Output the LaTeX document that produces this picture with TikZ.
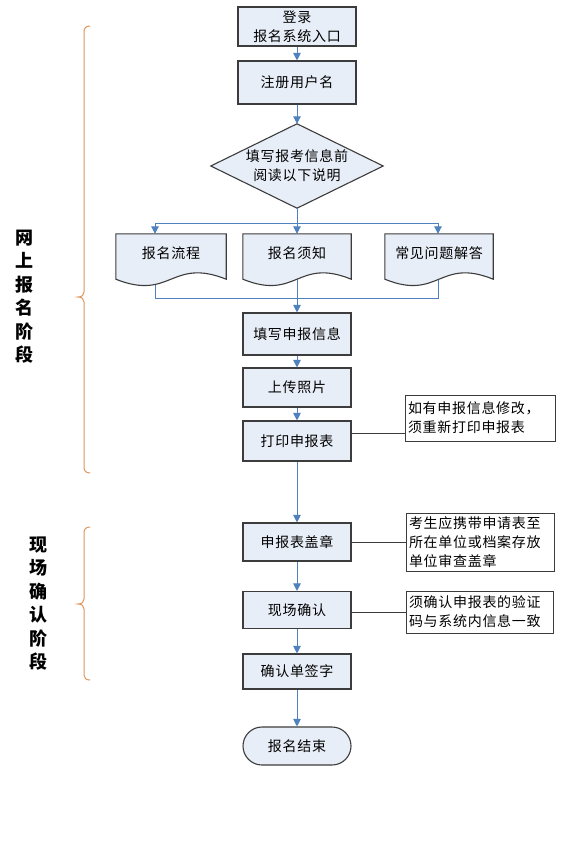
\documentclass[tikz,border=0pt]{standalone}
\usepackage{fontspec}
\setmainfont{Noto Sans CJK SC}[LetterSpace=5]
\usetikzlibrary{arrows.meta}
\definecolor{boxfill}{RGB}{232,238,247}
\definecolor{boxline}{RGB}{60,60,60}
\definecolor{arrowblue}{RGB}{79,129,189}
\definecolor{bracec}{RGB}{222,150,92}
\pgfdeclarelayer{lines}
\pgfdeclarelayer{shapes}
\pgfsetlayers{lines,shapes,main}
\tikzset{
  txt/.style={font=\fontsize{14}{19}\selectfont},
  box/.style={txt, draw=boxline, fill=boxfill, line width=1.1pt, minimum width=108pt, inner sep=0pt, align=center},
  plain/.style={txt, inner sep=0pt, align=center},
  shapeline/.style={draw=boxline, fill=boxfill, line width=1.1pt},
  note/.style={txt, draw=boxline, fill=white, line width=1pt, inner sep=3pt, align=left},
  arr/.style={draw=arrowblue, line width=1pt, -{Triangle[width=7.5pt,length=7.5pt]}},
  link/.style={draw=arrowblue, line width=1pt},
  conn/.style={draw=boxline, line width=1pt},
  bracestyle/.style={draw=bracec, line width=1pt},
  stage/.style={font=\bfseries\fontsize{18}{23.5}\selectfont, align=center, inner sep=0pt}
}
\begin{document}
\begin{tikzpicture}[x=1pt,y=-1pt]
\begin{pgfonlayer}{lines}
\fill[white] (0,0) rectangle (567,850);
\end{pgfonlayer}
\useasboundingbox (0,0) rectangle (567,850);

% main column
\node[box, minimum width=118pt, minimum height=39pt] (b1) at (297,26.5) {登录\\报名系统入口};
\node[box, minimum width=118pt, minimum height=43pt] (b2) at (297,82.5) {注册用户名};
\node[plain, minimum width=172pt, minimum height=84pt] (dia) at (297,166) {填写报考信息前\\阅读以下说明};
\begin{pgfonlayer}{shapes}
\path[shapeline] (dia.north) -- (dia.east) -- (dia.south) -- (dia.west) -- cycle;
\end{pgfonlayer}

% documents
\node[plain, minimum width=110pt, minimum height=38pt] (d1) at (171,253) {报名流程};
\node[plain, minimum width=108pt, minimum height=38pt] (d2) at (297,253) {报名须知};
\node[plain, minimum width=108pt, minimum height=38pt] (d3) at (439,253) {常见问题解答};
\begin{pgfonlayer}{shapes}
\foreach \d in {d1,d2,d3}{
  \path[shapeline] (\d.north west) -- (\d.north east) -- ([yshift=-7pt]\d.south east)
    .. controls ([yshift=15pt]\d.south) and ([yshift=-29pt]\d.south) .. ([yshift=-7pt]\d.south west) -- cycle;
}
\end{pgfonlayer}

\node[box, minimum height=42pt] (f1) at (297,334) {填写申报信息};
\node[box, minimum height=39pt] (f2) at (297,387.5) {上传照片};
\node[box, minimum height=40pt] (f3) at (297,441) {打印申报表};
\node[box, minimum height=38pt] (g1) at (297,542) {申报表盖章};
\node[box, minimum height=37pt] (g2) at (297,610) {现场确认};
\node[box, minimum height=35pt] (h1) at (297,671.5) {确认单签字};
\node[box, rounded corners=19pt, minimum height=38pt] (e) at (297,746) {报名结束};

% notes
\node[note, text width=144pt, minimum height=46pt] (n1) at (480,418) {如有申报信息修改，\\须重新打印申报表};
\node[note, text width=142pt, minimum height=58pt] (n2) at (480,542) {考生应携带申请表至\\所在单位或档案存放\\单位审查盖章};
\node[note, text width=141pt, minimum height=42pt] (n3) at (479.5,612) {须确认申报表的验证\\码与系统内信息一致};

% arrows
\draw[arr] (b1) -- (b2);
\draw[arr] (b2) -- (dia.north);
\coordinate (br) at (297,223);
\coordinate (a1) at (155,223);
\coordinate (a3) at (438,223);
\draw[link] (dia.south) -- (br);
\draw[link] (a1) -- (a3);
\draw[arr] (a1) -- (a1 |- d1.north);
\draw[arr] (br) -- (d2.north);
\draw[arr] (a3) -- (a3 |- d3.north);

\coordinate (m1) at (155,298);
\coordinate (m3) at (438,298);
\begin{pgfonlayer}{lines}
\draw[link] (d1.center -| m1) -- (m1) -- (m3) -- (d3.center -| m3);
\draw[arr] (d2.center) -- (f1.north);
\end{pgfonlayer}

\draw[arr] (f1) -- (f2);
\draw[arr] (f2) -- (f3);
\draw[arr] (f3) -- (g1);
\draw[arr] (g1) -- (g2);
\draw[arr] (g2) -- (h1);
\draw[arr] (h1) -- (e);

% note connectors
\draw[conn] ([yshift=8pt]f3.east) -- ([yshift=8pt]f3.east -| n1.west);
\draw[conn] (g1.east) -- (n2.west);
\draw[conn] (g2.east |- n3.west) -- (n3.west);

% braces
\draw[bracestyle] (90,26) .. controls (86,26) and (84,28) .. (84,32) -- (84,292)
  .. controls (84,295) and (82,297) .. (78,297) .. controls (82,297) and (84,299) .. (84,302)
  -- (84,467) .. controls (84,471) and (86,473) .. (90,473);
\draw[bracestyle] (90,527) .. controls (86,527) and (84,529) .. (84,533) -- (84,599)
  .. controls (84,602) and (82,604) .. (78,604) .. controls (82,604) and (84,606) .. (84,609)
  -- (84,675) .. controls (84,678) and (86,680) .. (90,680);

% stage labels
\node[stage] (L1) at (25,296.5) {网\\上\\报\\名\\阶\\段};
\node[stage] (L2) at (38,603.5) {现\\场\\确\\认\\阶\\段};
\end{tikzpicture}
\end{document}
